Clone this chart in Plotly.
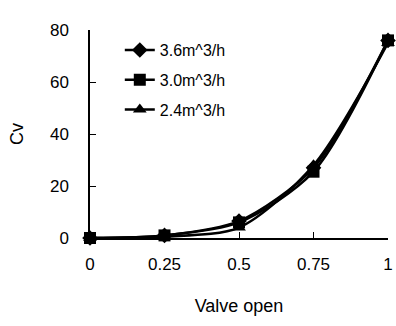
import plotly.graph_objects as go

valve_open = [0, 0.25, 0.5, 0.75, 1]
cv_36 = [0, 1.0, 6.5, 27, 76]
cv_30 = [0, 1.0, 6.0, 25.5, 76]
cv_24 = [0, 0.5, 4.0, 28, 75]
series_names = ["3.6m^3/h", "3.0m^3/h", "2.4m^3/h"]
symbols = ["diamond", "square", "triangle-up"]
x_ticks = [0, 0.25, 0.5, 0.75, 1]
x_tick_text = ["0", "0.25", "0.5", "0.75", "1"]
y_ticks = [0, 20, 40, 60, 80]

fig = go.Figure()
for name, vals, sym, gap in zip(series_names, [cv_36, cv_30, cv_24], symbols, ["a", "b", "c"]):
    fig.add_trace(go.Scatter(
        x=valve_open, y=vals, name=name, mode="lines+markers",
        line=dict(color="black", width=2.5, shape="spline", smoothing=0.8),
        marker=dict(symbol=sym, size=12, color="black"),
        legendgroup=gap, cliponaxis=False,
    ))

fnt = "Liberation Sans, Arial, sans-serif"
fig.update_layout(
    width=396, height=326,
    margin=dict(l=90, r=8, t=30, b=88),
    plot_bgcolor="white", paper_bgcolor="white",
    font=dict(family=fnt, color="black", size=17),
    showlegend=True,
    legend=dict(x=0.1, y=0.985, xanchor="left", yanchor="top",
                bgcolor="rgba(0,0,0,0)", font=dict(size=16),
                traceorder="grouped", tracegroupgap=6),
    xaxis=dict(range=[0, 1], tickvals=x_ticks, ticktext=x_tick_text,
               showgrid=False, zeroline=False, showline=True, linecolor="black", linewidth=1.5,
               ticks="inside", ticklen=6, tickcolor="black", ticklabelstandoff=10,
               title=dict(text="Valve open", font=dict(size=18), standoff=26),
               automargin=False),
    yaxis=dict(range=[0, 80], tickvals=y_ticks,
               showgrid=False, zeroline=False, showline=True, linecolor="black", linewidth=1.5,
               ticks="inside", ticklen=6, tickcolor="black", ticklabelstandoff=16,
               title=dict(text="Cv", font=dict(size=18), standoff=22),
               automargin=False),
)
fig.write_html("out.html", config={"displayModeBar": False},
               post_script="document.body.style.margin='0';document.body.style.overflow='hidden';")
